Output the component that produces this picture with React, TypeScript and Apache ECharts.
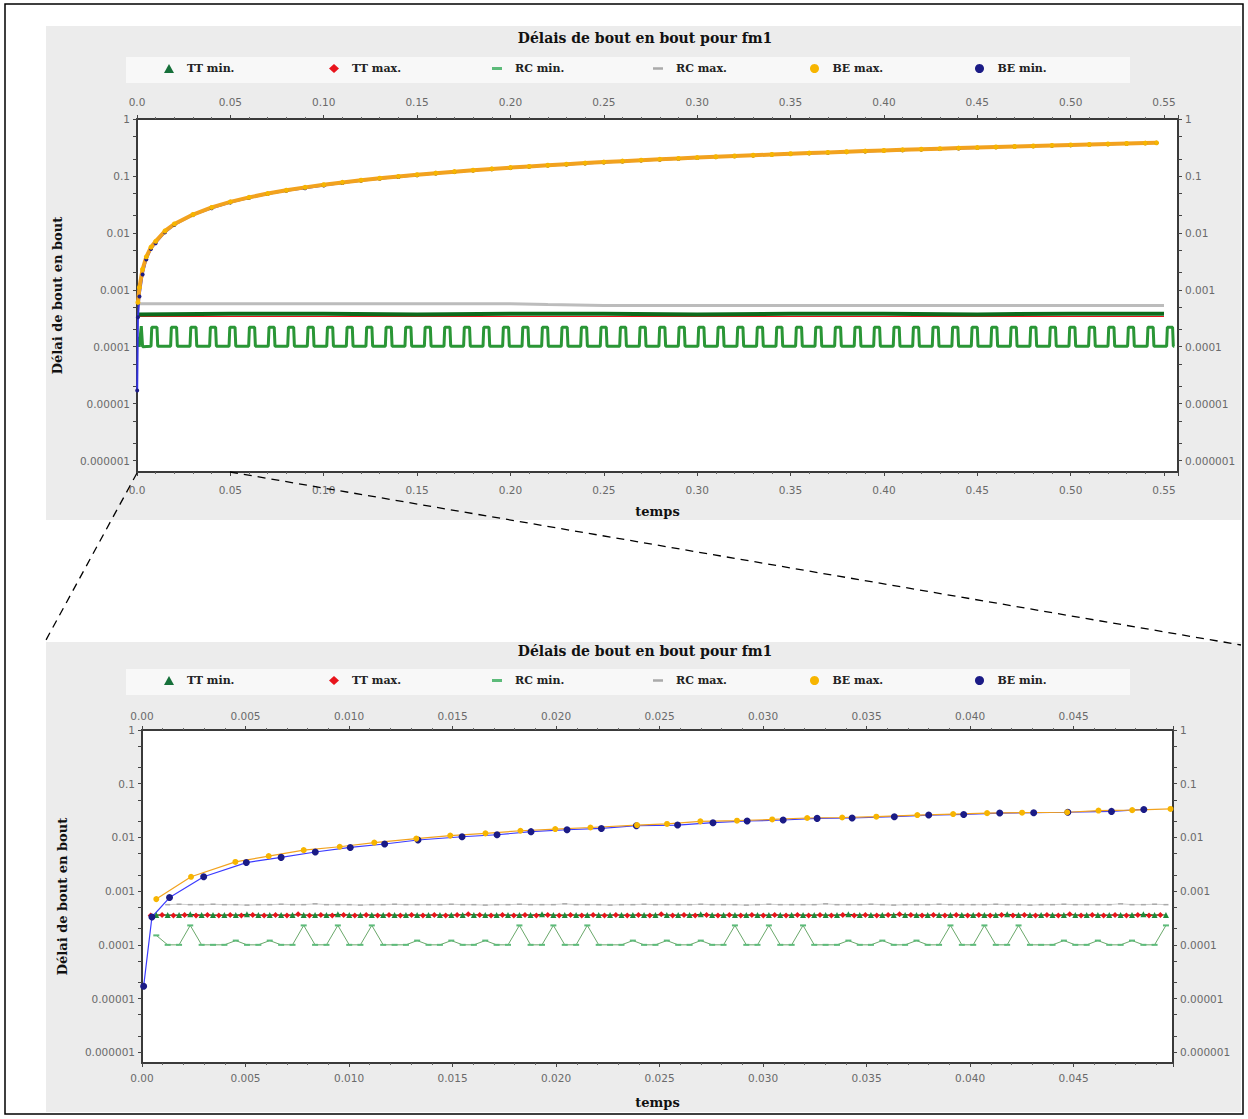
import React, { useEffect, useRef } from "react";
import * as echarts from "echarts";

// ---------------- texts ----------------
const chartTitle = "Délais de bout en bout pour fm1";
const xAxisTitle = "temps";
const yAxisTitle = "Délai de bout en bout";
const legendNames = ["TT min.", "TT max.", "RC min.", "RC max.", "BE max.", "BE min."];

// y axis (log) ticks
const yDecadeValues = [1, 0.1, 0.01, 0.001, 0.0001, 0.00001, 0.000001];
const yDecadeLabels = ["1", "0.1", "0.01", "0.001", "0.0001", "0.00001", "0.000001"];
const yMinorTickValues = [0.5, 0.2, 0.05, 0.02, 0.005, 0.002, 0.0005, 0.0002, 0.00005, 0.00002, 0.000005, 0.000002];

// ---------------- top chart (0 .. 0.55 s) ----------------
const topTimes = [
  0.0001, 0.0005, 0.0013, 0.003, 0.005, 0.0075, 0.01, 0.015, 0.02, 0.03, 0.04,
  0.05, 0.06, 0.07, 0.08, 0.09, 0.10, 0.11, 0.12, 0.13, 0.14,
  0.15, 0.16, 0.17, 0.18, 0.19, 0.20, 0.21, 0.22, 0.23, 0.24,
  0.25, 0.26, 0.27, 0.28, 0.29, 0.30, 0.31, 0.32, 0.33, 0.34,
  0.35, 0.36, 0.37, 0.38, 0.39, 0.40, 0.41, 0.42, 0.43, 0.44,
  0.45, 0.46, 0.47, 0.48, 0.49, 0.50, 0.51, 0.52, 0.53, 0.54, 0.546,
];
const topBeMin = [
  0.000017, 0.00033, 0.00076, 0.00185, 0.0034, 0.0052, 0.0066, 0.0102, 0.0138, 0.0205, 0.027,
  0.034, 0.041, 0.048, 0.055, 0.061, 0.068, 0.075, 0.082, 0.089, 0.096,
  0.103, 0.11, 0.117, 0.124, 0.131, 0.138, 0.145, 0.152, 0.158, 0.165,
  0.172, 0.179, 0.186, 0.193, 0.2, 0.207, 0.214, 0.221, 0.228, 0.235,
  0.242, 0.249, 0.256, 0.262, 0.269, 0.276, 0.283, 0.29, 0.297, 0.304,
  0.311, 0.318, 0.325, 0.332, 0.339, 0.346, 0.353, 0.36, 0.367, 0.374, 0.378,
];
const topBeMax = [
  null, 0.0006, 0.0011, 0.0023, 0.0038, 0.0056, 0.0071, 0.0108, 0.0143, 0.021, 0.028,
  0.035, 0.042, 0.049, 0.056, 0.063, 0.07, 0.077, 0.084, 0.091, 0.098,
  0.105, 0.112, 0.119, 0.126, 0.133, 0.14, 0.147, 0.154, 0.161, 0.168,
  0.175, 0.182, 0.189, 0.196, 0.203, 0.21, 0.217, 0.224, 0.231, 0.238,
  0.245, 0.252, 0.259, 0.266, 0.273, 0.28, 0.287, 0.294, 0.301, 0.308,
  0.315, 0.322, 0.329, 0.336, 0.343, 0.35, 0.357, 0.364, 0.371, 0.378, 0.382,
];
const topTtTimes = [0.0005, 0.05, 0.1, 0.15, 0.2, 0.25, 0.3, 0.35, 0.4, 0.45, 0.5, 0.55];
const topTtMin = [0.00037, 0.00038, 0.00038, 0.00037, 0.00038, 0.00038, 0.00037, 0.00038, 0.00038, 0.00037, 0.00038, 0.00038];
const topTtMax = [0.00034, 0.00034, 0.00034, 0.00034, 0.00034, 0.00034, 0.00034, 0.00034, 0.00034, 0.00034, 0.00034, 0.00034];
const topRcMaxTimes = [0.0007, 0.05, 0.1, 0.15, 0.2, 0.22, 0.25, 0.3, 0.35, 0.4, 0.45, 0.5, 0.55];
const topRcMax = [0.00057, 0.00057, 0.00057, 0.00057, 0.00057, 0.00055, 0.00053, 0.00053, 0.00053, 0.00053, 0.00053, 0.00053, 0.00053];
// RC min: start of each group of peaks ("teeth") read on the top chart
const topRcMinStart = [[0.0007, 0.00015], [0.0012, 0.0001], [0.0023, 0.00023], [0.003, 0.0001]];
const topRcMinTeeth = [
  0.0079, 0.0184, 0.0288, 0.0393, 0.0497, 0.0602, 0.0707, 0.0811, 0.0916, 0.102,
  0.1125, 0.123, 0.1334, 0.1439, 0.1543, 0.1648, 0.1753, 0.1857, 0.1962, 0.2066,
  0.2171, 0.2276, 0.238, 0.2485, 0.2589, 0.2694, 0.2799, 0.2903, 0.3008, 0.3112,
  0.3217, 0.3322, 0.3426, 0.3531, 0.3635, 0.374, 0.3845, 0.3949, 0.4054, 0.4158,
  0.4263, 0.4368, 0.4472, 0.4577, 0.4681, 0.4786, 0.4891, 0.4995, 0.51, 0.5204,
  0.5309, 0.5414, 0.5518,
];
const topRcMinBase = 0.000102;
const topRcMinPeak = 0.00022;
const topRcMinToothSpan = 0.0028;
const topRcMinToothEdge = 0.0004;
const topRcMinEnd = 0.5555;

// ---------------- bottom chart (0 .. 0.05 s) ----------------
const zoomTimes = [
  0.00069, 0.00124, 0.00179, 0.00233, 0.00288, 0.00343, 0.00398, 0.00453, 0.00507, 0.00562,
  0.00617, 0.00672, 0.00727, 0.00781, 0.00836, 0.00891, 0.00946, 0.01001, 0.01055, 0.0111,
  0.01165, 0.0122, 0.01275, 0.01329, 0.01384, 0.01439, 0.01494, 0.01549, 0.01603, 0.01658,
  0.01713, 0.01768, 0.01823, 0.01877, 0.01932, 0.01987, 0.02042, 0.02097, 0.02151, 0.02206,
  0.02261, 0.02316, 0.02371, 0.02425, 0.0248, 0.02535, 0.0259, 0.02645, 0.02699, 0.02754,
  0.02809, 0.02864, 0.02919, 0.02973, 0.03028, 0.03083, 0.03138, 0.03193, 0.03247, 0.03302,
  0.03357, 0.03412, 0.03467, 0.03521, 0.03576, 0.03631, 0.03686, 0.03741, 0.03795, 0.0385,
  0.03905, 0.0396, 0.04015, 0.04069, 0.04124, 0.04179, 0.04234, 0.04289, 0.04343, 0.04398,
  0.04453, 0.04508, 0.04563, 0.04617, 0.04672, 0.04727, 0.04782, 0.04837, 0.04891, 0.04946,
];
const zoomTimesMid = [
  0.00042, 0.00097, 0.00152, 0.00206, 0.00261, 0.00316, 0.00371, 0.00426, 0.0048, 0.00535,
  0.0059, 0.00645, 0.007, 0.00754, 0.00809, 0.00864, 0.00919, 0.00974, 0.01028, 0.01083,
  0.01138, 0.01193, 0.01248, 0.01302, 0.01357, 0.01412, 0.01467, 0.01522, 0.01576, 0.01631,
  0.01686, 0.01741, 0.01796, 0.0185, 0.01905, 0.0196, 0.02015, 0.0207, 0.02124, 0.02179,
  0.02234, 0.02289, 0.02344, 0.02398, 0.02453, 0.02508, 0.02563, 0.02618, 0.02672, 0.02727,
  0.02782, 0.02837, 0.02892, 0.02946, 0.03001, 0.03056, 0.03111, 0.03166, 0.0322, 0.03275,
  0.0333, 0.03385, 0.0344, 0.03494, 0.03549, 0.03604, 0.03659, 0.03714, 0.03768, 0.03823,
  0.03878, 0.03933, 0.03988, 0.04042, 0.04097, 0.04152, 0.04207, 0.04262, 0.04316, 0.04371,
  0.04426, 0.04481, 0.04536, 0.0459, 0.04645, 0.047, 0.04755, 0.0481, 0.04864, 0.04919,
];
const zoomRcMin = [
  0.00015, 0.0001, 0.0001, 0.00023, 0.0001, 0.0001, 0.0001, 0.00012, 0.0001, 0.0001,
  0.00012, 0.0001, 0.0001, 0.00023, 0.0001, 0.0001, 0.00023, 0.0001, 0.0001, 0.00023,
  0.0001, 0.0001, 0.0001, 0.00012, 0.0001, 0.0001, 0.00012, 0.0001, 0.0001, 0.00012,
  0.0001, 0.0001, 0.00023, 0.0001, 0.0001, 0.00023, 0.0001, 0.0001, 0.00023, 0.0001,
  0.0001, 0.0001, 0.00012, 0.0001, 0.0001, 0.00012, 0.0001, 0.0001, 0.00012, 0.0001,
  0.0001, 0.00023, 0.0001, 0.0001, 0.00023, 0.0001, 0.0001, 0.00023, 0.0001, 0.0001,
  0.0001, 0.00012, 0.0001, 0.0001, 0.00012, 0.0001, 0.0001, 0.00012, 0.0001, 0.0001,
  0.00023, 0.0001, 0.0001, 0.00023, 0.0001, 0.0001, 0.00023, 0.0001, 0.0001, 0.0001,
  0.00012, 0.0001, 0.0001, 0.00012, 0.0001, 0.0001, 0.00012, 0.0001, 0.0001, 0.00023,
];
const zoomRcMax = [
  null, 0.00056, 0.00057, 0.00056, 0.00056, 0.00057, 0.00056, 0.00056, 0.00055, 0.00056,
  0.00056, 0.00057, 0.00056, 0.00056, 0.00058, 0.00056, 0.00056, 0.00056, 0.00055, 0.00056,
  0.00056, 0.00057, 0.00056, 0.00056, 0.00056, 0.00056, 0.00057, 0.00056, 0.00056, 0.00055,
  0.00056, 0.00056, 0.00057, 0.00056, 0.00056, 0.00056, 0.00058, 0.00056, 0.00056, 0.00056,
  0.00055, 0.00056, 0.00056, 0.00057, 0.00056, 0.00056, 0.00056, 0.00056, 0.00057, 0.00056,
  0.00056, 0.00056, 0.00055, 0.00056, 0.00057, 0.00056, 0.00056, 0.00056, 0.00056, 0.00058,
  0.00056, 0.00056, 0.00056, 0.00057, 0.00056, 0.00055, 0.00056, 0.00056, 0.00056, 0.00057,
  0.00056, 0.00056, 0.00056, 0.00056, 0.00057, 0.00056, 0.00056, 0.00055, 0.00056, 0.00056,
  0.00057, 0.00056, 0.00056, 0.00056, 0.00056, 0.00058, 0.00056, 0.00056, 0.00057, 0.00056,
];
const zoomTtMin = [
  0.00036, 0.00036, 0.00036, 0.00037, 0.00036, 0.00036, 0.00036, 0.00036, 0.00037, 0.00036,
  0.00036, 0.00036, 0.00036, 0.00036, 0.00036, 0.00036, 0.00037, 0.00036, 0.00036, 0.00036,
  0.00036, 0.00036, 0.00036, 0.00036, 0.00036, 0.00036, 0.00036, 0.00036, 0.00036, 0.00036,
  0.00036, 0.00036, 0.00036, 0.00036, 0.00037, 0.00036, 0.00036, 0.00036, 0.00036, 0.00036,
  0.00036, 0.00036, 0.00036, 0.00036, 0.00036, 0.00036, 0.00036, 0.00036, 0.00037, 0.00036,
  0.00036, 0.00036, 0.00036, 0.00036, 0.00036, 0.00036, 0.00036, 0.00036, 0.00036, 0.00036,
  0.00036, 0.00037, 0.00036, 0.00036, 0.00036, 0.00036, 0.00036, 0.00036, 0.00036, 0.00036,
  0.00036, 0.00036, 0.00036, 0.00036, 0.00036, 0.00037, 0.00036, 0.00036, 0.00036, 0.00036,
  0.00036, 0.00036, 0.00036, 0.00036, 0.00036, 0.00036, 0.00036, 0.00037, 0.00036, 0.00036,
];
const zoomTtMax = [
  0.00035, 0.00036, 0.00035, 0.00036, 0.00035, 0.00036, 0.00035, 0.00036, 0.00035, 0.00036,
  0.00035, 0.00036, 0.00035, 0.00037, 0.00035, 0.00036, 0.00035, 0.00036, 0.00035, 0.00036,
  0.00035, 0.00036, 0.00035, 0.00036, 0.00035, 0.00036, 0.00035, 0.00036, 0.00037, 0.00036,
  0.00035, 0.00036, 0.00035, 0.00036, 0.00035, 0.00036, 0.00035, 0.00036, 0.00035, 0.00036,
  0.00035, 0.00036, 0.00035, 0.00036, 0.00035, 0.00037, 0.00035, 0.00036, 0.00035, 0.00036,
  0.00035, 0.00036, 0.00035, 0.00036, 0.00035, 0.00036, 0.00035, 0.00036, 0.00035, 0.00036,
  0.00035, 0.00036, 0.00035, 0.00036, 0.00035, 0.00036, 0.00037, 0.00036, 0.00035, 0.00036,
  0.00035, 0.00036, 0.00035, 0.00036, 0.00035, 0.00036, 0.00035, 0.00036, 0.00035, 0.00036,
  0.00035, 0.00037, 0.00035, 0.00036, 0.00035, 0.00036, 0.00035, 0.00036, 0.00035, 0.00036,
];
const zoomBeMinTimes = [
  0.00008, 0.00048, 0.00133, 0.00298, 0.00504, 0.00672, 0.00837, 0.01006, 0.01172, 0.01333,
  0.01546, 0.01715, 0.01879, 0.02053, 0.02219, 0.02388, 0.02587, 0.02758, 0.02923, 0.03097,
  0.03261, 0.0343, 0.03634, 0.038, 0.03969, 0.04143, 0.04307, 0.04472, 0.04683, 0.04839,
];
const zoomBeMin = [
  0.000017, 0.00033, 0.00076, 0.00185, 0.0034, 0.00425, 0.00535, 0.0065, 0.00754, 0.00895,
  0.0103, 0.0112, 0.0128, 0.0139, 0.0147, 0.0165, 0.017, 0.0188, 0.0202, 0.0211,
  0.0226, 0.023, 0.0243, 0.0261, 0.0268, 0.0284, 0.0288, 0.0294, 0.0305, 0.0332,
];
const zoomBeMaxTimes = [
  0.00069, 0.00237, 0.00451, 0.00612, 0.00781, 0.00955, 0.01122, 0.01325, 0.01489, 0.01659,
  0.01828, 0.01996, 0.02166, 0.02391, 0.02536, 0.02697, 0.02874, 0.03044, 0.03213, 0.03382,
  0.03547, 0.03745, 0.03918, 0.04082, 0.04251, 0.04469, 0.0462, 0.04783, 0.04968,
];
const zoomBeMax = [
  0.00071, 0.00185, 0.0035, 0.0045, 0.0058, 0.0067, 0.008, 0.0095, 0.0108, 0.0119,
  0.0133, 0.0143, 0.0153, 0.017, 0.0178, 0.0199, 0.0205, 0.0216, 0.023, 0.0235,
  0.0243, 0.0261, 0.0272, 0.0283, 0.0289, 0.0294, 0.0316, 0.0322, 0.0339,
];

// ---------------- helpers ----------------
const lg = (v: number) => Math.log10(v);
const pts = (times: number[], vals: (number | null)[]) =>
  times.map((t, i) => [t, vals[i] == null ? "-" : lg(vals[i] as number)]);

function buildTopRcMin() {
  const out: any[] = topRcMinStart.map(([t, v]) => [t, lg(v)]);
  topRcMinTeeth.forEach((s) => {
    out.push([s - topRcMinToothEdge, lg(topRcMinBase)]);
    out.push([s, lg(topRcMinPeak)]);
    out.push([s + topRcMinToothSpan, lg(topRcMinPeak)]);
    out.push([s + topRcMinToothSpan + topRcMinToothEdge, lg(topRcMinBase)]);
  });
  out.push([topRcMinEnd, lg(topRcMinBase)]);
  return out;
}

const serifBold = { fontFamily: "DejaVu Serif", fontWeight: "bold" as const, color: "#111" };
const tickFont = { fontFamily: "DejaVu Sans", fontSize: 10.5, color: "#6a6a6a" };
const axisLineStyle = { color: "#3a3a3a", width: 2 };

const yLabel = (v: number) => {
  const i = yDecadeValues.findIndex((d) => Math.abs(lg(d) - v) < 1e-6);
  return i >= 0 ? yDecadeLabels[i] : "";
};

function xAxes(gridIndex: number, max: number, interval: number, fmt: (v: number) => string, margin: number, nameGap: number) {
  const base: any = {
    type: "value",
    gridIndex,
    min: 0,
    max,
    interval,
    axisLine: { show: true, onZero: false, lineStyle: axisLineStyle },
    axisTick: { show: true, length: 4, lineStyle: { color: "#444" } },
    minorTick: { show: true, splitNumber: 5, length: 2, lineStyle: { color: "#666" } },
    splitLine: { show: false },
    axisLabel: { formatter: fmt, showMaxLabel: false, margin, ...tickFont },
  };
  return [
    {
      ...base,
      position: "bottom",
      name: xAxisTitle,
      nameLocation: "middle",
      nameGap,
      nameTextStyle: { ...serifBold, fontSize: 13 },
    },
    { ...base, position: "top" },
  ];
}

function yAxes(gridIndex: number, nameGap: number) {
  const base: any = {
    type: "value",
    gridIndex,
    min: -6.2,
    max: 0,
    axisLine: { show: true, onZero: false, lineStyle: axisLineStyle },
    axisTick: {
      show: true,
      length: 4,
      lineStyle: { color: "#444" },
      customValues: [...yDecadeValues, ...yMinorTickValues].map(lg),
    },
    splitLine: { show: false },
    axisLabel: { customValues: yDecadeValues.map(lg), formatter: yLabel, margin: 7, ...tickFont },
  };
  return [
    {
      ...base,
      position: "left",
      name: yAxisTitle,
      nameLocation: "middle",
      nameGap,
      nameRotate: 90,
      nameTextStyle: { ...serifBold, fontSize: 13 },
    },
    { ...base, position: "right" },
  ];
}

const legendIcons = ["triangle", "diamond", "path://M0,0H10V3H0Z", "path://M0,0H8V2H0Z", "circle", "circle"];
const legendCenters = [169, 334, 497, 658, 815, 980];

function legends(top: number) {
  return legendNames.map((name, i) => ({
    data: [{ name, icon: legendIcons[i] }],
    left: legendCenters[i] - 5,
    top,
    padding: 0,
    itemWidth: 10,
    itemHeight: 9,
    selectedMode: false,
    textStyle: { ...serifBold, fontSize: 11, color: "#222", padding: [0, 0, 0, 8] },
  }));
}

const colors = {
  ttMin: "#16703a",
  ttMinLine: "#0d6a1c",
  ttMax: "#e8141c",
  rcMin: "#5dbb7a",
  rcMinLine: "#2a9636",
  rcMax: "#aaaaaa",
  rcMaxLine: "#bcbcbc",
  beMax: "#f7b500",
  beMaxLine: "#f2a21e",
  beMin: "#1b1b86",
  beMinLine: "#3232e0",
};

function buildOption() {
  const topX = (v: number) => (v === 0 ? "0.0" : v.toFixed(2));
  const botX = (v: number) => (v === 0 ? "0.00" : v.toFixed(3));
  const ax = (x: number, y: number) => ({ xAxisIndex: x, yAxisIndex: y });

  const topSeries: any[] = [
    {
      name: "RC max.", type: "line", ...ax(0, 0), data: pts(topRcMaxTimes, topRcMax), showSymbol: false,
      itemStyle: { color: colors.rcMax }, lineStyle: { color: colors.rcMaxLine, width: 3 },
    },
    {
      name: "RC min.", type: "line", ...ax(0, 0), data: buildTopRcMin(), showSymbol: false,
      itemStyle: { color: colors.rcMin }, lineStyle: { color: colors.rcMinLine, width: 3 },
    },
    {
      name: "TT max.", type: "line", ...ax(0, 0), data: pts(topTtTimes, topTtMax), showSymbol: false,
      itemStyle: { color: colors.ttMax }, lineStyle: { color: colors.ttMax, width: 1.2 },
    },
    {
      name: "TT min.", type: "line", ...ax(0, 0), data: pts(topTtTimes, topTtMin), showSymbol: false,
      itemStyle: { color: colors.ttMin }, lineStyle: { color: colors.ttMinLine, width: 4 },
    },
    {
      name: "BE min.", type: "line", ...ax(0, 0), data: pts(topTimes, topBeMin), symbol: "circle", symbolSize: 4,
      itemStyle: { color: colors.beMin }, lineStyle: { color: colors.beMinLine, width: 2 },
    },
    {
      name: "BE max.", type: "line", ...ax(0, 0), data: pts(topTimes, topBeMax), symbol: "circle", symbolSize: 5,
      itemStyle: { color: colors.beMax }, lineStyle: { color: colors.beMaxLine, width: 4 },
    },
  ];

  const botSeries: any[] = [
    {
      name: "RC max.", type: "line", ...ax(2, 2), data: pts(zoomTimes, zoomRcMax), symbol: "rect", symbolSize: [5, 1.5],
      itemStyle: { color: colors.rcMax }, lineStyle: { color: "#cfcfcf", width: 1 },
    },
    {
      name: "RC min.", type: "line", ...ax(2, 2), data: pts(zoomTimes, zoomRcMin), symbol: "rect", symbolSize: [6, 2],
      itemStyle: { color: colors.rcMin }, lineStyle: { color: "#6aa86a", width: 1 },
    },
    {
      name: "TT max.", type: "line", ...ax(2, 2), data: pts(zoomTimesMid, zoomTtMax), symbol: "diamond", symbolSize: 6,
      itemStyle: { color: colors.ttMax }, lineStyle: { color: colors.ttMax, width: 1 },
    },
    {
      name: "TT min.", type: "line", ...ax(2, 2), data: pts(zoomTimes, zoomTtMin), symbol: "triangle", symbolSize: 6,
      itemStyle: { color: "#1f8a3a" }, lineStyle: { color: colors.ttMinLine, width: 1 },
    },
    {
      name: "BE min.", type: "line", ...ax(2, 2), data: pts(zoomBeMinTimes, zoomBeMin), symbol: "circle", symbolSize: 7,
      itemStyle: { color: colors.beMin }, lineStyle: { color: "#3b3bff", width: 1.2 },
    },
    {
      name: "BE max.", type: "line", ...ax(2, 2), data: pts(zoomBeMaxTimes, zoomBeMax), symbol: "circle", symbolSize: 6,
      itemStyle: { color: colors.beMax }, lineStyle: { color: colors.beMaxLine, width: 1.2 },
    },
  ];

  return {
    animation: false,
    backgroundColor: "#ffffff",
    grid: [
      { left: 137, top: 119, width: 1041, height: 353, show: true, backgroundColor: "#ffffff", borderWidth: 0 },
      { left: 142, top: 730, width: 1031, height: 333, show: true, backgroundColor: "#ffffff", borderWidth: 0 },
    ],
    xAxis: [
      ...xAxes(0, 0.5575, 0.05, topX, 12, 33),
      ...xAxes(1, 0.0498, 0.005, botX, 9, 33),
    ],
    yAxis: [...yAxes(0, 73), ...yAxes(1, 73)],
    legend: [...legends(63), ...legends(675)],
    graphic: [
      { type: "rect", z: -2, shape: { x: 46, y: 26, width: 1195, height: 494 }, style: { fill: "#ececec" } },
      { type: "rect", z: -2, shape: { x: 46, y: 642, width: 1195, height: 470 }, style: { fill: "#ececec" } },
      { type: "rect", z: -1, shape: { x: 126, y: 57, width: 1004, height: 26 }, style: { fill: "#f8f8f8" } },
      { type: "rect", z: -1, shape: { x: 126, y: 669, width: 1004, height: 26 }, style: { fill: "#f8f8f8" } },
      {
        type: "text", z: 10, x: 645, y: 38,
        style: { text: chartTitle, font: 'bold 14px "DejaVu Serif"', fill: "#111", align: "center", verticalAlign: "middle" },
      },
      {
        type: "text", z: 10, x: 645, y: 651,
        style: { text: chartTitle, font: 'bold 14px "DejaVu Serif"', fill: "#111", align: "center", verticalAlign: "middle" },
      },
      {
        type: "line", z: 100, shape: { x1: 137, y1: 473, x2: 46, y2: 640 },
        style: { stroke: "#000", lineWidth: 1.3, lineDash: [8, 6] },
      },
      {
        type: "line", z: 100, shape: { x1: 230, y1: 472, x2: 1241, y2: 645 },
        style: { stroke: "#000", lineWidth: 1.3, lineDash: [8, 6] },
      },
      {
        type: "rect", z: 100, shape: { x: 5, y: 4, width: 1238, height: 1110 },
        style: { fill: "none", stroke: "#000", lineWidth: 1.5 },
      },
    ],
    series: [...topSeries, ...botSeries].map((s) => ({ ...s, silent: true, animation: false })),
  };
}

export default function App() {
  const ref = useRef<HTMLDivElement>(null);
  useEffect(() => {
    if (!ref.current) return;
    const chart = echarts.init(ref.current, null, { renderer: "svg" });
    chart.setOption(buildOption() as any);
    return () => chart.dispose();
  }, []);
  return (
    <div
      ref={ref}
      style={{ position: "absolute", left: 0, top: 0, width: 1248, height: 1119, background: "#fff" }}
    />
  );
}
